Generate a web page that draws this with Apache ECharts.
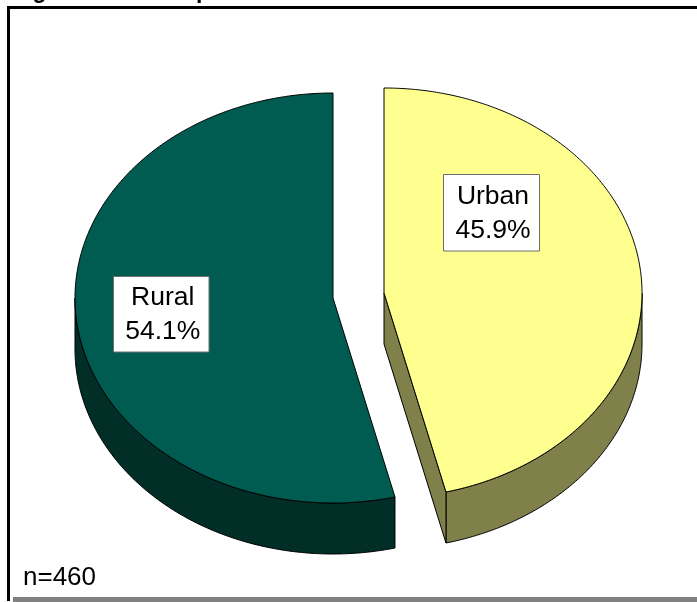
<!DOCTYPE html>
<html>
<head>
<meta charset="utf-8">
<style>html,body{margin:0;padding:0;background:#fff}#c{width:697px;height:602px}</style>
<script src="https://cdn.jsdelivr.net/npm/echarts@6/dist/echarts.min.js"></script>
</head>
<body>
<div id="c"></div>
<script>
const categories = ['Urban', 'Rural'];
const shares = [45.9, 54.1];
const sampleNote = 'n=460';
const titleText = 'Figure 3.10: Sample';

const topColors = ['#FFFF8F', '#005C50'];
const sideColors = ['#80804A', '#022E28'];
const centers = [[384, 293], [333, 298]];
const labelCenters = [[491.5, 212.75], [161.25, 314.25]];
const labelSizes = [[96, 76.5], [95.5, 75.5]];
const RX = 258, RY = 205, DEPTH = 51;
// angle distortion of the tilted 3D view: quadrant points stay put, the rest shift a little
const VIEW_SKEW = 1.75;

const chart = echarts.init(document.getElementById('c'), null, {renderer: 'canvas'});

function pt(c, deg, dy) {
  const a = (deg - VIEW_SKEW * Math.sin(2 * deg * Math.PI / 180)) * Math.PI / 180;
  return [c[0] + RX * Math.sin(a), c[1] - RY * Math.cos(a) + (dy || 0)];
}
function arc(c, from, to, dy) {
  const n = Math.max(2, Math.ceil(Math.abs(to - from) * 2)), out = [];
  for (let i = 0; i <= n; i++) out.push(pt(c, from + (to - from) * i / n, dy));
  return out;
}
function face(points, fill) {
  return {type: 'polygon', shape: {points}, style: {fill, stroke: '#000', lineWidth: 1, lineJoin: 'round'}, silent: true};
}
const total = shares.reduce((a, b) => a + b, 0);

function renderItem(params, api) {
  const i = params.dataIndex;
  let start = 0;
  for (let k = 0; k < i; k++) start += shares[k] / total * 360;
  const end = start + api.value(0) / total * 360;
  const c = centers[i], kids = [];
  const wallFrom = Math.max(start, 90), wallTo = Math.min(end, 270);
  if (wallTo > wallFrom) {
    kids.push(face(arc(c, wallFrom, wallTo, 0).concat(arc(c, wallTo, wallFrom, DEPTH)), sideColors[i]));
  }
  if (i === 0) {
    const e = pt(c, end, 0);
    kids.push(face([[c[0], c[1]], e, [e[0], e[1] + DEPTH], [c[0], c[1] + DEPTH]], sideColors[i]));
  }
  kids.push(face([[c[0], c[1]]].concat(arc(c, start, end, 0)), topColors[i]));
  return {type: 'group', children: kids};
}
function renderLabel(params, api) {
  const i = params.dataIndex, lc = labelCenters[i], s = labelSizes[i];
  return {type: 'group', children: [
    {type: 'rect', shape: {x: lc[0] - s[0] / 2, y: lc[1] - s[1] / 2, width: s[0], height: s[1]},
     style: {fill: '#fff', stroke: '#6e6e6e', lineWidth: 1}, silent: true},
    {type: 'text', x: lc[0] + 1.5, y: lc[1] + 0.5, silent: true,
     style: {text: categories[i] + '\n' + api.value(0).toFixed(1) + '%', fill: '#000',
       font: '26.5px "Liberation Sans"', lineHeight: 34, align: 'center', verticalAlign: 'middle'}}
  ]};
}

chart.setOption({
  animation: false,
  backgroundColor: '#fff',
  graphic: [
    {type: 'text', x: 12, y: 3, style: {text: titleText, font: 'bold 23px "Liberation Sans"', fill: '#000', verticalAlign: 'bottom'}},
    {type: 'rect', shape: {x: 7, y: 6, width: 690, height: 3}, style: {fill: '#000'}},
    {type: 'rect', shape: {x: 7, y: 6, width: 3, height: 595}, style: {fill: '#000'}},
    {type: 'rect', shape: {x: 13, y: 597, width: 684, height: 5}, style: {fill: '#808080'}},
    {type: 'text', x: 23, y: 591, style: {text: sampleNote, font: '26px "Liberation Sans"', fill: '#000', verticalAlign: 'bottom'}}
  ],
  series: [
    {type: 'custom', coordinateSystem: 'none', renderItem, data: shares.map(v => [v]), z: 1, silent: true, clip: false},
    {type: 'custom', coordinateSystem: 'none', renderItem: renderLabel, data: shares.map(v => [v]), z: 2, silent: true}
  ]
});
</script>
</body>
</html>
